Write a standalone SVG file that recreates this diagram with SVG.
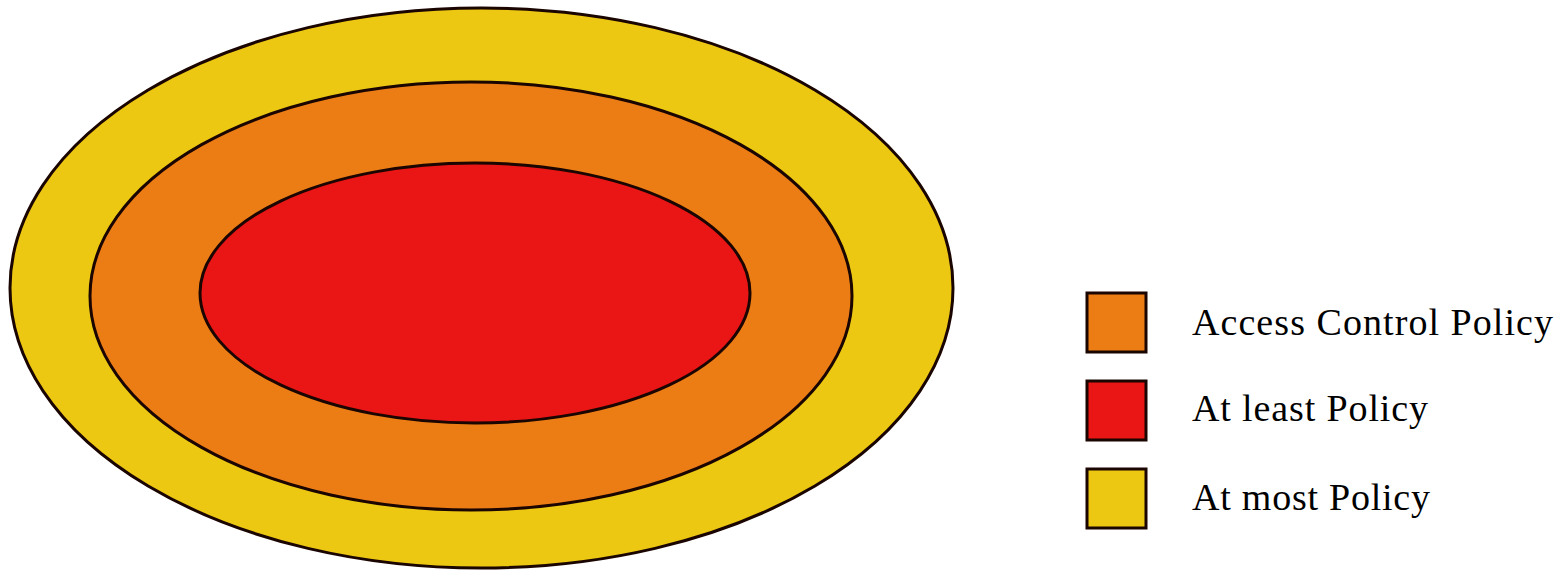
<svg xmlns="http://www.w3.org/2000/svg" width="1566" height="570" viewBox="0 0 1566 570">
<style>
.ring{stroke:#1a0500;stroke-width:3}
.box{stroke:#1a0500;stroke-width:3}
.yellow{fill:#ecc813}
.orange{fill:#ec7d15}
.red{fill:#ea1515}
.lbl{font-family:"Liberation Serif","DejaVu Serif",serif;font-size:38px;fill:#000}
</style>
<rect width="1566" height="570" fill="#ffffff"/>
<g id="at-most-ring"><ellipse class="ring yellow" cx="481.5" cy="288" rx="471.5" ry="280"/></g>
<g id="access-control-ring"><ellipse class="ring orange" cx="471" cy="296" rx="381" ry="214"/></g>
<g id="at-least-ring"><ellipse class="ring red" cx="475" cy="293" rx="275" ry="130"/></g>
<g id="legend-access"><rect class="box orange" x="1087" y="293" width="59" height="59"/><text class="lbl" x="1192" y="335" textLength="361" lengthAdjust="spacing">Access Control Policy</text></g>
<g id="legend-least"><rect class="box red" x="1087" y="381" width="59" height="59"/><text class="lbl" x="1192" y="421" textLength="236" lengthAdjust="spacing">At least Policy</text></g>
<g id="legend-most"><rect class="box yellow" x="1087" y="469" width="59" height="59"/><text class="lbl" x="1192" y="510" textLength="238" lengthAdjust="spacing">At most Policy</text></g>
<g id="connectors"/>
</svg>
